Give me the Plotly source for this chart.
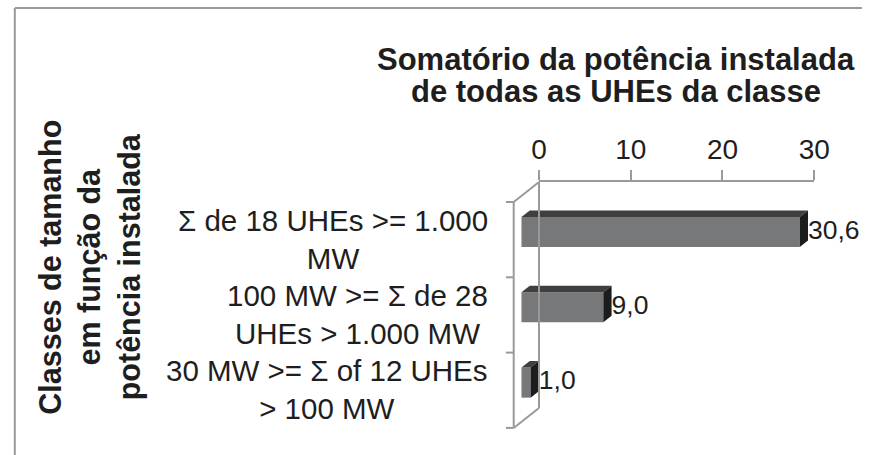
import plotly.graph_objects as go

# ---- data ----
categories = [
    "Σ de 18 UHEs >= 1.000<br>MW",
    "100 MW >= Σ de 28<br>UHEs > 1.000 MW",
    "30 MW >= Σ of 12 UHEs<br>> 100 MW",
]
values = [30.6, 9.0, 1.0]
value_labels = ["30,6", "9,0", "1,0"]
tick_values = [0, 10, 20, 30]
tick_labels = ["0", "10", "20", "30"]
title_lines = ["Somatório da potência instalada", "de todas as UHEs da classe"]
ytitle_text = "Classes de tamanho<br>em função da<br>potência instalada"

# ---- geometry / styling ----
W, H = 873, 455
FONT = "Liberation Sans, Arial, sans-serif"
TXT = "#1e1e1e"
LINE = "#9a9a9a"
FRONT = "#777879"
TOP = "#3f3f40"
SIDE = "#1c1c1c"

K = 9.35      # px per unit (bar plane)
P = 75.3      # px per category
X0 = 528      # px of zero in bar plane
Y0 = 232      # px of first category centre in bar plane
DX = 8.5 / K  # bar depth (x)
DY = 6.5 / P  # bar depth (y)
BW = 0.4      # bar width (category units)

def px_x(px):
    return (px - X0) / K

def px_y(py):
    return (py - Y0) / P

def fx(px):
    return px / W

def fy(py):
    return 1 - py / H

XL, XR = 505, 873
YT, YB = 182, 450

fig = go.Figure()
idx = list(range(len(values)))

# front faces
fig.add_trace(go.Bar(
    y=idx, x=values, orientation="h", width=BW,
    marker=dict(color=FRONT, line=dict(width=0)),
    hoverinfo="skip", showlegend=False,
))

# top + side faces (3D effect)
for i, v in zip(idx, values):
    yt = i - BW / 2
    yb = i + BW / 2
    fig.add_trace(go.Scatter(
        x=[0, v, v + DX, DX, 0], y=[yt, yt, yt - DY, yt - DY, yt],
        fill="toself", fillcolor=TOP, mode="lines", line=dict(width=0, color=TOP),
        hoverinfo="skip", showlegend=False,
    ))
    fig.add_trace(go.Scatter(
        x=[v, v + DX, v + DX, v, v], y=[yt, yt - DY, yb - DY, yb, yt],
        fill="toself", fillcolor=SIDE, mode="lines", line=dict(width=0, color=SIDE),
        hoverinfo="skip", showlegend=False,
    ))

# value labels
fig.add_trace(go.Scatter(
    x=[v + DX for v in values], y=idx, mode="text", text=value_labels,
    textposition="middle right",
    textfont=dict(family=FONT, size=26.5, color=TXT),
    hoverinfo="skip", showlegend=False, cliponaxis=False,
))

# dummy trace to create the top (back-wall) axis
fig.add_trace(go.Scatter(
    x=[tick_values[0], tick_values[-1]], y=[None, None], xaxis="x2", yaxis="y",
    mode="lines", hoverinfo="skip", showlegend=False,
))

# ---- axes ----
fig.update_layout(
    xaxis=dict(domain=[fx(XL), fx(XR)], range=[px_x(XL), px_x(XR)],
               visible=False, fixedrange=True),
    xaxis2=dict(domain=[fx(546), fx(829)], range=[tick_values[0], tick_values[-1]],
                anchor="y", side="top",
                tickvals=tick_values, ticktext=tick_labels,
                ticks="outside", ticklen=10, tickwidth=2, tickcolor=LINE,
                showline=True, linecolor=LINE, linewidth=2,
                showgrid=False, zeroline=False, fixedrange=True,
                tickfont=dict(family=FONT, size=28, color=TXT)),
    yaxis=dict(domain=[fy(YB), fy(YT)], range=[px_y(YB), px_y(YT)],
               visible=False, fixedrange=True),
)

# ---- wall frame decorations ----
shapes = []
def seg(x0, y0, x1, y1):
    shapes.append(dict(type="line", xref="paper", yref="paper",
                       x0=fx(x0), y0=fy(y0), x1=fx(x1), y1=fy(y1),
                       line=dict(color=LINE, width=2)))

seg(546, 182, 546, 408)   # back vertical
seg(520, 202, 520, 428)   # front vertical
seg(520, 202, 546, 182)   # top diagonal
seg(520, 428, 546, 408)   # bottom diagonal
for k in range(len(values) + 1):
    yy = 202 + k * P
    seg(512, yy, 520, yy)

# outer chart border (left + top)
seg(7, 8, 7, H + 5)
seg(7, 8, W + 5, 8)

fig.update_layout(shapes=shapes)

# ---- annotations ----
ann = []
for ln, yc in zip(title_lines, [60, 92]):
    ann.append(dict(text="<b>" + ln + "</b>", xref="paper", yref="paper",
                    x=fx(625), y=fy(yc), xanchor="center", yanchor="middle",
                    align="center", showarrow=False,
                    font=dict(family=FONT, size=31, color=TXT)))
ann.append(dict(text="<b>" + ytitle_text + "</b>", xref="paper", yref="paper",
                x=fx(84), y=fy(267), xanchor="center", yanchor="middle",
                align="center", showarrow=False, textangle=-90,
                font=dict(family=FONT, size=30.5, color=TXT)))
for i, c in zip(idx, categories):
    ann.append(dict(text=c, xref="paper", yref="y",
                    x=fx(496), y=i + 7 / P, xanchor="right", yanchor="middle",
                    align="center", showarrow=False,
                    font=dict(family=FONT, size=29.5, color=TXT)))
fig.update_layout(annotations=ann)

fig.update_layout(
    width=W, height=H,
    margin=dict(l=0, r=0, t=0, b=0),
    paper_bgcolor="white", plot_bgcolor="rgba(0,0,0,0)",
    showlegend=False,
)

fig.write_html(
    "out.html",
    config={"displayModeBar": False, "staticPlot": True},
    post_script="document.body.style.margin='0';"
                "document.documentElement.style.overflow='hidden';"
                "document.body.style.overflow='hidden';",
)
